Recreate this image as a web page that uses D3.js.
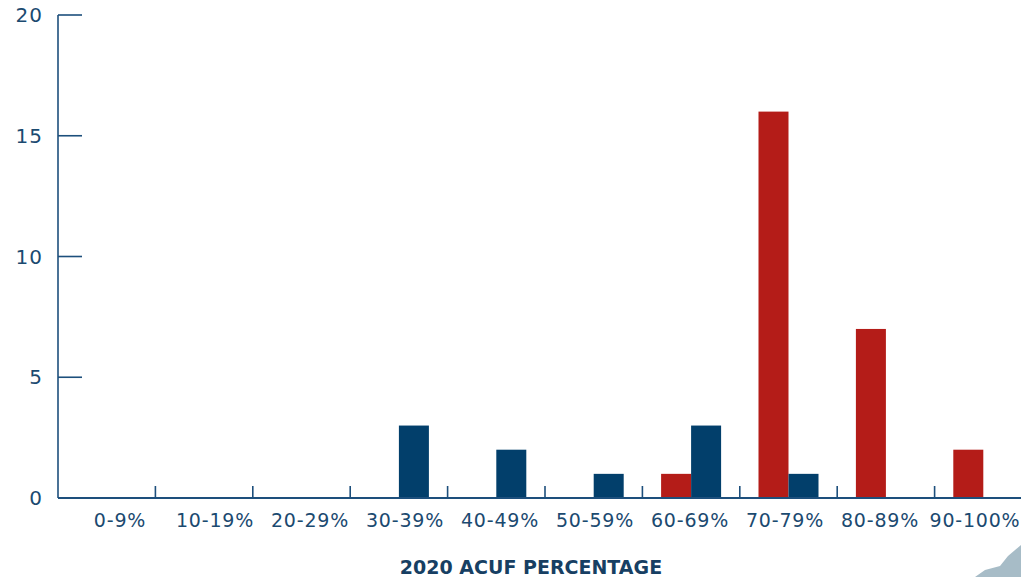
<!DOCTYPE html>
<html><head><meta charset="utf-8">
<script src="https://cdn.jsdelivr.net/npm/d3@7"></script>
<style>
html,body{margin:0;padding:0;background:#fff;}
svg text{font-family:"DejaVu Sans",sans-serif;}
</style></head>
<body>
<svg id="c" width="1021" height="577"></svg>
<script>
const categories = ["0-9%","10-19%","20-29%","30-39%","40-49%","50-59%","60-69%","70-79%","80-89%","90-100%"];
const redValues  = [0,0,0,0,0,0,1,16,7,2];
const blueValues = [0,0,0,3,2,1,3,1,0,0];
const yTicks = [0,5,10,15,20];
const xTitle = "2020 ACUF PERCENTAGE";

(function(){
const svg = d3.select("#c");
const axisColor = "#1d4f7c";
const textColor = "#1b4a70";
const mLeft = 58, mRight = 1032, mTop = 15, mBottom = 498;

const x = d3.scaleBand().domain(categories).range([mLeft, mRight]).padding(0);
const xLab = d3.scalePoint().domain(categories).range([120, 975]);
const y = d3.scaleLinear().domain([0,20]).range([mBottom, mTop]);
const barW = 30;

const g = svg.append("g");
g.selectAll("rect.red").data(categories).join("rect")
  .attr("x", d => x(d) + x.bandwidth()/2 - barW)
  .attr("width", barW)
  .attr("y", (d,i) => y(redValues[i]))
  .attr("height", (d,i) => y(0) - y(redValues[i]))
  .attr("fill", "#b41c18");
g.selectAll("rect.blue").data(categories).join("rect")
  .attr("x", d => x(d) + x.bandwidth()/2)
  .attr("width", barW)
  .attr("y", (d,i) => y(blueValues[i]))
  .attr("height", (d,i) => y(0) - y(blueValues[i]))
  .attr("fill", "#023f6b");

svg.append("line").attr("x1", mLeft).attr("x2", mLeft).attr("y1", y(20)).attr("y2", y(0))
  .attr("stroke", axisColor).attr("stroke-width", 1.6);
svg.selectAll("line.yt").data(yTicks).join("line")
  .attr("x1", mLeft).attr("x2", mLeft + 24)
  .attr("y1", d => y(d)).attr("y2", d => y(d))
  .attr("stroke", axisColor).attr("stroke-width", 1.6);
svg.selectAll("text.yl").data(yTicks).join("text")
  .attr("x", 43).attr("y", d => y(d)).attr("dy", "0.36em")
  .attr("text-anchor", "end").attr("fill", textColor)
  .attr("font-size", 20).attr("letter-spacing", 1).text(d => d);

svg.append("line").attr("x1", mLeft).attr("x2", 1021).attr("y1", y(0)).attr("y2", y(0))
  .attr("stroke", axisColor).attr("stroke-width", 1.8);
svg.selectAll("line.xt").data(categories.slice(1)).join("line")
  .attr("x1", d => x(d)).attr("x2", d => x(d))
  .attr("y1", y(0)).attr("y2", y(0) - 12)
  .attr("stroke", axisColor).attr("stroke-width", 1.6);
svg.selectAll("text.xl").data(categories).join("text")
  .attr("x", d => xLab(d)).attr("y", 527)
  .attr("text-anchor", "middle").attr("fill", textColor)
  .attr("font-size", 19).attr("letter-spacing", 0.8).text(d => d);

svg.append("text").attr("x", 531).attr("y", 574)
  .attr("text-anchor", "middle").attr("fill", "#173f63")
  .attr("font-size", 19).attr("font-weight", 700).text(xTitle);

svg.append("path")
  .attr("d", "M975,577 L985,570 L1000,566 L1008,556 L1021,545 L1021,577 Z")
  .attr("fill", "#a7bcc7");
})();
</script>
</body></html>
